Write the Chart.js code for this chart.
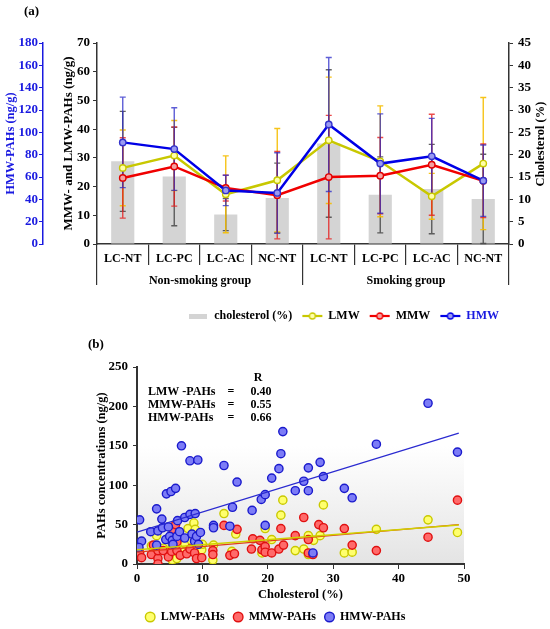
<!DOCTYPE html>
<html>
<head>
<meta charset="utf-8">
<script src="https://cdn.jsdelivr.net/npm/chart.js@4.4.0/dist/chart.umd.min.js"></script>
<style>
  html, body { margin: 0; padding: 0; background: #fff; overflow: hidden; }
  #wrapA { position: absolute; left: 0; top: 0; width: 550px; height: 332px; }
  #wrapB { position: absolute; left: 0; top: 330px; width: 550px; height: 303px; }
</style>
</head>
<body>
<div id="wrapA"><canvas id="chartA" width="550" height="332"></canvas></div>
<div id="wrapB"><canvas id="chartB" width="550" height="303"></canvas></div>
<script>
const FONT = "'Liberation Serif', 'Times New Roman', serif";

// ---- panel (a) ----
const categories = ["LC-NT", "LC-PC", "LC-AC", "NC-NT", "LC-NT", "LC-PC", "LC-AC", "NC-NT"];
const groups = ["Non-smoking group", "Smoking group"];
const cholesterol = [18.5, 15.1, 6.6, 10.3, 22.5, 11.0, 12.3, 10.1];
const cholesterolSD = [11.2, 11.0, 3.6, 7.8, 16.5, 8.5, 10.0, 10.0];
const lmw = [26.5, 30.8, 17.3, 22.2, 36.1, 28.8, 16.6, 28.0];
const lmwSD = [13.2, 12.2, 13.4, 18.0, 22.0, 19.3, 8.0, 23.0];
const mmw = [23.0, 27.0, 19.5, 17.0, 23.3, 23.8, 27.6, 22.0];
const mmwSD = [14.0, 13.8, 4.5, 15.2, 21.5, 13.3, 17.6, 12.8];
const hmw = [91, 85, 48, 45.7, 107, 72, 78.5, 56.7];
const hmwSD = [40.5, 37, 13.6, 36, 60, 44.5, 34, 32];

// ---- panel (b) : [cholesterol %, concentration ng/g] ----
const lmwPoints = [[0.3, 18], [2.2, 23], [3.0, 36], [4.0, 20], [5.4, 24], [5.4, 5], [6.1, 7], [6.8, 17],
  [7.3, 26], [7.8, 45], [8.3, 30], [8.7, 52], [8.9, 44], [9.9, 18], [10.0, 25], [11.7, 24], [11.6, 5],
  [13.3, 64], [14.5, 16], [15.1, 38], [19.1, 14], [19.6, 45], [20.6, 31], [22.0, 62], [22.3, 81],
  [24.2, 17], [25.5, 19], [26.2, 36], [26.2, 12], [27.0, 30], [28.0, 36], [28.5, 75], [31.7, 14],
  [32.9, 15], [36.6, 44], [44.5, 56], [49.0, 40]];
const mmwPoints = [[0.4, 14], [0.7, 8], [2.2, 12], [2.5, 24], [3.2, 7], [3.2, 0], [3.2, 17], [4.0, 17],
  [4.8, 9], [5.3, 16], [5.5, 44], [5.9, 50], [6.1, 17], [6.1, 28], [6.6, 11], [7.6, 13], [8.1, 19],
  [8.8, 14], [9.1, 7], [9.9, 8], [11.6, 17], [11.6, 12], [13.3, 49], [14.2, 11], [14.9, 13], [15.3, 44],
  [17.5, 19], [17.7, 32], [18.8, 30], [19.1, 18], [19.6, 22], [19.6, 15], [20.6, 14], [21.7, 19],
  [22.0, 45], [22.4, 24], [24.2, 36], [25.5, 59], [26.2, 31], [26.2, 14], [26.9, 12], [27.8, 50],
  [28.5, 46], [31.7, 45], [32.9, 24], [36.6, 17], [44.5, 34], [49.0, 81]];
const hmwPoints = [[0.4, 56], [0.7, 29], [0.3, 21], [2.1, 41], [3.0, 70], [3.2, 42], [3.0, 24], [3.8, 57],
  [3.9, 46], [4.5, 89], [5.2, 92], [5.9, 96], [6.8, 150], [8.1, 131], [9.3, 132], [4.4, 31], [4.8, 47],
  [5.0, 35], [5.4, 30], [5.5, 25], [6.1, 35], [6.2, 55], [6.5, 41], [7.3, 59], [7.3, 33], [8.1, 63],
  [8.9, 64], [8.4, 38], [8.8, 29], [9.1, 35], [9.4, 25], [9.7, 40], [11.7, 49], [11.7, 46], [13.3, 125],
  [14.2, 48], [14.6, 72], [15.3, 104], [17.6, 68], [19.0, 82], [19.6, 88], [19.6, 49], [20.6, 109],
  [21.7, 121], [22.0, 140], [22.3, 168], [24.2, 93], [25.5, 105], [26.2, 122], [26.2, 93], [26.9, 14],
  [28.0, 129], [28.5, 111], [31.7, 96], [32.9, 84], [36.6, 152], [44.5, 204], [49.0, 142]];
const trendLMW = [[0, 18], [49.2, 49.5]];
const trendMMW = [[0, 15], [49.2, 50]];
const trendHMW = [[0, 40.5], [49.2, 166]];
const rNames = ["LMW -PAHs", "MMW-PAHs", "HMW-PAHs"];
const rValues = ["0.40", "0.55", "0.66"];

const toXY = arr => arr.map(p => ({ x: p[0], y: p[1] }));
const font = (size) => ({ family: FONT, size: size, weight: 'bold' });

function lineIcon(color, fill) {
  const c = document.createElement('canvas');
  c.width = 22; c.height = 10;
  const g = c.getContext('2d');
  g.strokeStyle = color; g.lineWidth = 2.2;
  g.beginPath(); g.moveTo(1, 5); g.lineTo(21, 5); g.stroke();
  g.beginPath(); g.arc(11, 5, 3, 0, Math.PI * 2);
  g.fillStyle = fill; g.fill(); g.lineWidth = 1.3; g.stroke();
  return c;
}
function boxIcon(color) {
  const c = document.createElement('canvas');
  c.width = 18; c.height = 5;
  const g = c.getContext('2d');
  g.fillStyle = color; g.fillRect(0, 0, 18, 5);
  return c;
}

function drawErrors(chart) {
  const ctx = chart.ctx;
  chart.data.datasets.forEach((ds, i) => {
    if (!ds.errors) return;
    const meta = chart.getDatasetMeta(i);
    const scale = chart.scales[ds.yAxisID];
    ctx.save();
    ctx.strokeStyle = ds.errorColor;
    ctx.lineWidth = 1.4;
    meta.data.forEach((el, j) => {
      const v = ds.data[j], e = ds.errors[j];
      const x = el.x;
      const yt = scale.getPixelForValue(v + e);
      const yb = scale.getPixelForValue(Math.max(0, v - e));
      ctx.beginPath();
      ctx.moveTo(x, yt); ctx.lineTo(x, yb);
      ctx.moveTo(x - 3, yt); ctx.lineTo(x + 3, yt);
      ctx.moveTo(x - 3, yb); ctx.lineTo(x + 3, yb);
      ctx.stroke();
    });
    ctx.restore();
  });
}

const panelA = {
  id: 'panelA',
  afterDatasetDraw(chart, args) {
    if (args.index === 0) drawErrors(chart);
  },
  afterDraw(chart) {
    const ctx = chart.ctx;
    ctx.save();
    ctx.fillStyle = '#000';
    ctx.font = "bold 13px " + FONT;
    ctx.textBaseline = 'middle';
    ctx.fillText('(a)', 24, 12);
    ctx.translate(541, 144);
    ctx.rotate(-Math.PI / 2);
    ctx.textAlign = 'center';
    ctx.font = "bold 12.5px " + FONT;
    ctx.fillText('Cholesterol (%)', 0, 0);
    ctx.restore();
  }
};

new Chart(document.getElementById('chartA'), {
  type: 'bar',
  data: {
    labels: categories,
    datasets: [
      { type: 'bar', label: 'cholesterol (%)', data: cholesterol, errors: cholesterolSD, errorColor: 'rgba(70,70,70,0.85)',
        yAxisID: 'yC', backgroundColor: '#d4d4d4', barPercentage: 0.45, categoryPercentage: 1, order: 10 },
      { type: 'line', label: 'LMW', data: lmw, errors: lmwSD, errorColor: 'rgba(245,190,0,0.9)', yAxisID: 'y',
        borderColor: '#c8c800', borderWidth: 2.5, pointBackgroundColor: '#ffffa8', pointBorderColor: '#c8c800',
        pointRadius: 3.2, pointBorderWidth: 1.4, order: 3 },
      { type: 'line', label: 'MMW', data: mmw, errors: mmwSD, errorColor: 'rgba(230,30,30,0.8)', yAxisID: 'y',
        borderColor: '#f00000', borderWidth: 2.5, pointBackgroundColor: '#f4a0a0', pointBorderColor: '#e00000',
        pointRadius: 3.2, pointBorderWidth: 1.4, order: 2 },
      { type: 'line', label: 'HMW', data: hmw, errors: hmwSD, errorColor: 'rgba(40,40,200,0.75)', yAxisID: 'yH',
        borderColor: '#0000e6', borderWidth: 2.5, pointBackgroundColor: '#9a9af2', pointBorderColor: '#3333cc',
        pointRadius: 3.2, pointBorderWidth: 1.4, order: 1, legendColor: '#1a1ae0' }
    ]
  },
  options: {
    responsive: false,
    animation: false,
    layout: { padding: { top: 43, left: 0, right: 0, bottom: 0 } },
    scales: {
      x: {
        type: 'category', position: 'bottom', offset: true,
        grid: { offset: true, drawOnChartArea: false, tickLength: 21, color: '#333', lineWidth: 1.2 },
        border: { color: '#333', width: 1.5 },
        ticks: { padding: -13, font: font(12), color: '#000', maxRotation: 0, autoSkip: false },
        afterFit: s => { s.height = 21; }
      },
      x2: {
        type: 'category', position: 'bottom', labels: groups, offset: true,
        grid: { offset: true, drawOnChartArea: false, tickLength: 20, color: '#333', lineWidth: 1.2 },
        border: { display: false },
        ticks: { padding: -11, font: font(12), color: '#000', maxRotation: 0 },
        afterFit: s => { s.height = 35; }
      },
      yH: {
        type: 'linear', position: 'left', weight: 2, min: 0, max: 180,
        ticks: { stepSize: 20, font: font(13), color: '#1a1ae0', padding: 1 },
        grid: { drawOnChartArea: false, tickLength: 4, color: '#1a1ae0' },
        border: { color: '#1a1ae0', width: 1.5 },
        title: { display: true, text: 'HMW-PAHs (ng/g)', font: font(12.5), color: '#1a1ae0', padding: { top: 3, bottom: 0 } },
        afterFit: s => { s.width = 43; }
      },
      y: {
        type: 'linear', position: 'left', weight: 1, min: 0, max: 70,
        ticks: { stepSize: 10, font: font(13), color: '#000', padding: 3 },
        grid: { drawOnChartArea: false, tickLength: 4, color: '#333' },
        border: { color: '#333', width: 1.5 },
        title: { display: true, text: 'MMW- and LMW-PAHs (ng/g)', font: font(13), color: '#000', padding: { top: 18, bottom: 0 } },
        afterFit: s => { s.width = 54; }
      },
      yC: {
        type: 'linear', position: 'right', min: 0, max: 45,
        ticks: { stepSize: 5, font: font(13), color: '#000', padding: 5 },
        grid: { drawOnChartArea: false, tickLength: 4, color: '#333' },
        border: { color: '#333', width: 1.5 },
        afterFit: s => { s.width = 41; }
      }
    },
    plugins: {
      legend: {
        position: 'bottom', fullSize: false, align: 'end',
        labels: {
          usePointStyle: true, pointStyleWidth: 20, padding: 10, font: font(12), color: '#000',
          generateLabels: chart => chart.data.datasets.map((ds, i) => ({
            text: ds.label,
            pointStyle: ds.type === 'bar' ? boxIcon(ds.backgroundColor) : lineIcon(ds.borderColor, ds.pointBackgroundColor),
            fontColor: ds.legendColor || '#000',
            fillStyle: 'transparent', strokeStyle: 'transparent', lineWidth: 0,
            hidden: false, datasetIndex: i
          }))
        }
      },
      tooltip: { enabled: false }
    }
  },
  plugins: [panelA]
});

// ---- panel (b) ----
const panelB = {
  id: 'panelB',
  beforeDraw(chart) {
    const { ctx, chartArea: a } = chart;
    const g = ctx.createLinearGradient(0, a.top, 0, a.bottom);
    g.addColorStop(0, '#ffffff');
    g.addColorStop(0.4, '#ffffff');
    g.addColorStop(1, '#e4e4e4');
    ctx.save();
    ctx.fillStyle = g;
    ctx.fillRect(a.left, a.top, a.right - a.left, a.bottom - a.top);
    ctx.restore();
  },
  afterDraw(chart) {
    const ctx = chart.ctx;
    ctx.save();
    ctx.fillStyle = '#000';
    ctx.textBaseline = 'middle';
    ctx.font = "bold 13px " + FONT;
    ctx.fillText('(b)', 88, 15);
    ctx.font = "bold 12px " + FONT;
    ctx.textAlign = 'center';
    ctx.fillText('R', 258, 48);
    rNames.forEach((n, i) => {
      const y = 62 + i * 13;
      ctx.textAlign = 'left';
      ctx.fillText(n, 148, y);
      ctx.textAlign = 'center';
      ctx.fillText('=', 231, y);
      ctx.fillText(rValues[i], 261, y);
    });
    ctx.restore();
  }
};

new Chart(document.getElementById('chartB'), {
  type: 'scatter',
  data: {
    datasets: [
      { label: 'LMW-PAHs', data: toXY(lmwPoints), backgroundColor: '#ffff6e', borderColor: '#c9c900', order: 3 },
      { label: 'MMW-PAHs', data: toXY(mmwPoints), backgroundColor: '#ff6a6a', borderColor: '#e01010', order: 2 },
      { label: 'HMW-PAHs', data: toXY(hmwPoints), backgroundColor: '#7c7cf6', borderColor: '#1a1acc', order: 1 },
      { label: 'trend', trend: true, data: toXY(trendLMW), showLine: true, pointRadius: 0, borderColor: '#d0d000', borderWidth: 1.4, order: 0 },
      { label: 'trend', trend: true, data: toXY(trendMMW), showLine: true, pointRadius: 0, borderColor: '#e03a1a', borderWidth: 1.2, order: 0 },
      { label: 'trend', trend: true, data: toXY(trendHMW), showLine: true, pointRadius: 0, borderColor: '#2a2ad0', borderWidth: 1.2, order: 0 }
    ]
  },
  options: {
    responsive: false,
    animation: false,
    layout: { padding: { top: 37, left: 87, right: 86, bottom: 0 } },
    elements: { point: { radius: 4.1, borderWidth: 1.4 } },
    scales: {
      x: {
        type: 'linear', min: 0, max: 50,
        ticks: { stepSize: 10, font: font(13), color: '#000', padding: 2 },
        grid: { drawOnChartArea: false, tickLength: 5, color: '#333' },
        border: { color: '#333', width: 2 },
        title: { display: true, text: 'Cholesterol (%)', font: font(12.5), color: '#000', padding: 0 },
        afterFit: s => { s.height = 38; }
      },
      y: {
        type: 'linear', min: 0, max: 250,
        ticks: { stepSize: 50, font: font(13), color: '#000', padding: 5 },
        grid: { drawOnChartArea: false, tickLength: 4, color: '#333' },
        border: { color: '#333', width: 2 },
        title: { display: true, text: 'PAHs concentrations (ng/g)', font: font(12.5), color: '#000', padding: { top: 7, bottom: 0 } },
        afterFit: s => { s.width = 50; }
      }
    },
    plugins: {
      legend: {
        position: 'bottom',
        labels: {
          usePointStyle: true, boxWidth: 9, boxHeight: 6.8, padding: 9, font: font(12), color: '#000',
          generateLabels: chart => chart.data.datasets.map((ds, i) => ({
            text: ds.label, pointStyle: 'circle', fillStyle: ds.backgroundColor, strokeStyle: ds.borderColor,
            lineWidth: 1.4, hidden: false, datasetIndex: i, trend: ds.trend
          })).filter(item => !item.trend)
        }
      },
      tooltip: { enabled: false }
    }
  },
  plugins: [panelB]
});
</script>
</body>
</html>
